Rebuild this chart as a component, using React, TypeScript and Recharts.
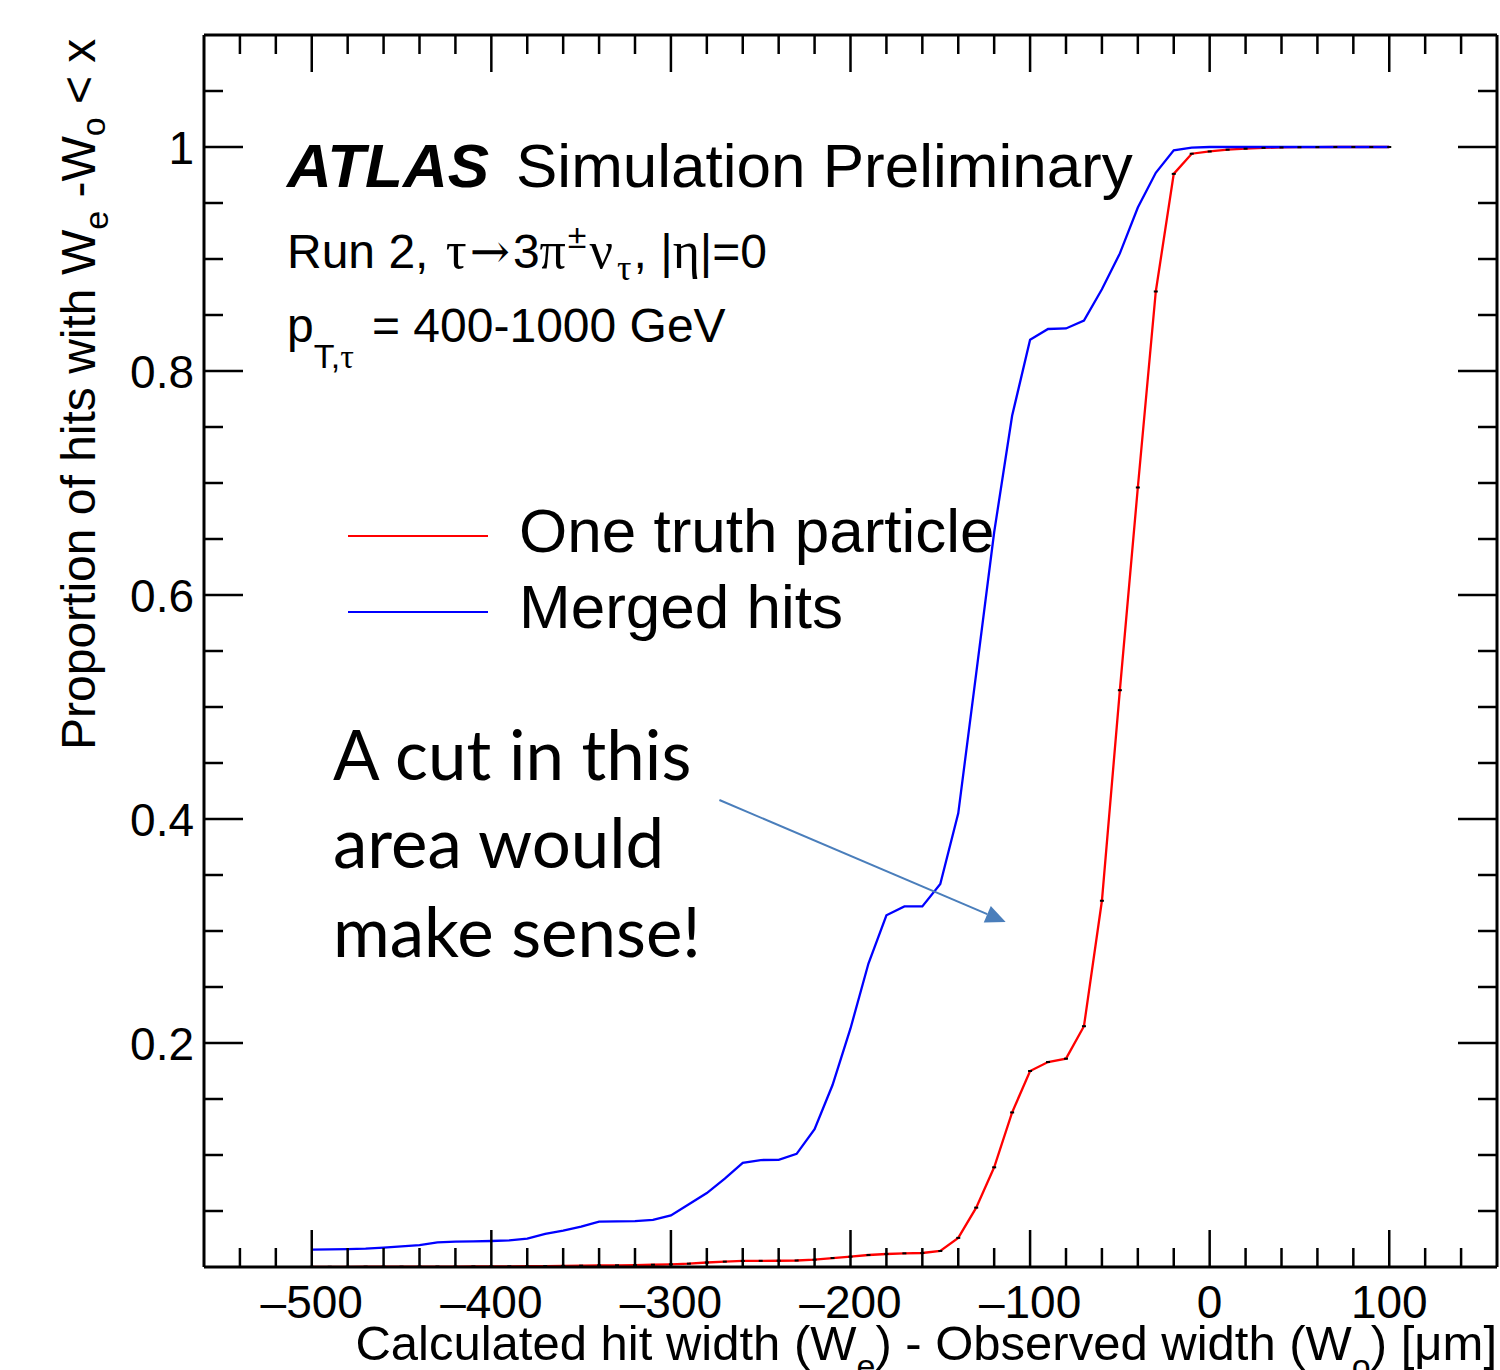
import { LineChart, Line, XAxis, YAxis, ReferenceLine } from "recharts";

// bin centres [um]
const xValues = [
  -500, -490, -480, -470, -460, -450, -440, -430, -420, -410,
  -400, -390, -380, -370, -360, -350, -340, -330, -320, -310,
  -300, -290, -280, -270, -260, -250, -240, -230, -220, -210,
  -200, -190, -180, -170, -160, -150, -140, -130, -120, -110,
  -100, -90, -80, -70, -60, -50, -40, -30, -20, -10,
  0, 10, 20, 30, 40, 50, 60, 70, 80, 90, 100,
];

// "One truth particle" (red)
const oneTruth = [
  0.0002, 0.0002, 0.0002, 0.0003, 0.0003, 0.0003, 0.0004, 0.0004, 0.0004, 0.0005,
  0.0005, 0.0006, 0.0007, 0.0008, 0.001, 0.0012, 0.0014, 0.0015, 0.0016, 0.002,
  0.0024, 0.003, 0.004, 0.0048, 0.0054, 0.0055, 0.0056, 0.0058, 0.0065, 0.008,
  0.0092, 0.0107, 0.0116, 0.0122, 0.0125, 0.0143, 0.026, 0.053, 0.089, 0.138,
  0.175, 0.183, 0.186, 0.215, 0.327, 0.515, 0.696, 0.871, 0.976, 0.994,
  0.996, 0.9976, 0.9985, 0.9992, 0.9996, 0.9998, 0.9999, 1, 1, 1, 1,
];

// "Merged hits" (blue)
const mergedHits = [
  0.0155, 0.0157, 0.016, 0.0164, 0.0173, 0.0185, 0.0196, 0.022, 0.0226, 0.0229,
  0.0232, 0.0238, 0.0253, 0.0295, 0.0324, 0.036, 0.0405, 0.0408, 0.041, 0.042,
  0.046, 0.056, 0.066, 0.079, 0.093, 0.0955, 0.0957, 0.101, 0.123, 0.1625,
  0.213, 0.271, 0.314, 0.322, 0.322, 0.342, 0.405, 0.53, 0.656, 0.76,
  0.828, 0.8375, 0.838, 0.845, 0.873, 0.905, 0.946, 0.977, 0.997, 0.9995,
  1, 1, 1, 1, 1, 1, 1, 1, 1, 1, 1,
];

const xTicks = [
  -540, -520, -500, -480, -460, -440, -420, -400, -380, -360, -340, -320, -300,
  -280, -260, -240, -220, -200, -180, -160, -140, -120, -100, -80, -60, -40, -20,
  0, 20, 40, 60, 80, 100, 120, 140,
];
const yTicks = [
  0.05, 0.1, 0.15, 0.2, 0.25, 0.3, 0.35, 0.4, 0.45, 0.5, 0.55, 0.6, 0.65, 0.7,
  0.75, 0.8, 0.85, 0.9, 0.95, 1, 1.05,
];
const yLabels = [0.2, 0.4, 0.6, 0.8, 1];

// annotation arrow, in data units
const arrowFrom = { x: -273, y: 0.417 };
const arrowTo = { x: -113.6, y: 0.308 };

const data = xValues.map((x, i) => ({ x, truth: oneTruth[i], merged: mergedHits[i] }));

const SANS = "'Liberation Sans', Arial, Helvetica, sans-serif";
const SERIF = "'Liberation Serif', 'DejaVu Serif', serif";

const isMajorX = (v: number) => v % 100 === 0;
const isMajorY = (v: number) => Math.round(v * 100) % 20 === 0;

const BottomTick = ({ x, y, payload }: any) => {
  const v = payload.value;
  const major = isMajorX(v);
  return (
    <g>
      <line x1={x} x2={x} y1={y} y2={y - (major ? 37 : 19)} stroke="#000" strokeWidth={2.5} />
      {major && (
        <text x={x} y={y + 51} textAnchor="middle" fontSize={46} fontFamily={SANS} fill="#000">
          {v < 0 ? `\u2013${Math.abs(v)}` : v}
        </text>
      )}
    </g>
  );
};

const TopTick = ({ x, y, payload }: any) => {
  const major = isMajorX(payload.value);
  return <line x1={x} x2={x} y1={y} y2={y + (major ? 37 : 19)} stroke="#000" strokeWidth={2.5} />;
};

const LeftTick = ({ x, y, payload }: any) => {
  const v = payload.value;
  const major = isMajorY(v);
  const label = yLabels.find((l) => Math.abs(l - v) < 1e-6);
  return (
    <g>
      <line x1={x} x2={x + (major ? 39 : 19)} y1={y} y2={y} stroke="#000" strokeWidth={2.5} />
      {label !== undefined && (
        <text x={x - 10} y={y} dy="0.36em" textAnchor="end" fontSize={46} fontFamily={SANS} fill="#000">
          {label}
        </text>
      )}
    </g>
  );
};

const RightTick = ({ x, y, payload }: any) => {
  const major = isMajorY(payload.value);
  return <line x1={x} x2={x - (major ? 39 : 19)} y1={y} y2={y} stroke="#000" strokeWidth={2.5} />;
};

const ErrorDot = ({ cx, cy }: any) => <rect x={cx - 2} y={cy - 1} width={4} height={2} fill="#000" />;

const Arrow = (p: any) => {
  const { x1, y1, x2, y2 } = p;
  const a = Math.atan2(y2 - y1, x2 - x1);
  const L = 20;
  const W = 9;
  const bx = x2 - L * Math.cos(a);
  const by = y2 - L * Math.sin(a);
  const pts = `${x2},${y2} ${bx - W * Math.sin(a)},${by + W * Math.cos(a)} ${bx + W * Math.sin(a)},${by - W * Math.cos(a)}`;
  return (
    <g>
      <line x1={x1} y1={y1} x2={bx} y2={by} stroke="#4a7ebb" strokeWidth={2} />
      <polygon points={pts} fill="#4a7ebb" />
    </g>
  );
};

export default function App() {
  const axisLine = { stroke: "#000", strokeWidth: 3 };
  return (
    <div style={{ position: "absolute", left: 0, top: 0, width: 1500, height: 1370, background: "#fff", overflow: "hidden" }}>
      <LineChart width={1500} height={1370} data={data} margin={{ top: 34, right: 2, bottom: 102, left: 203 }}>
        <XAxis
          dataKey="x"
          type="number"
          domain={[-560, 160]}
          ticks={xTicks}
          interval={0}
          height={1}
          tickSize={0}
          tickMargin={0}
          tickLine={false}
          axisLine={axisLine}
          tick={(p: any) => <BottomTick {...p} />}
          allowDataOverflow
        />
        <XAxis
          xAxisId="top"
          dataKey="x"
          orientation="top"
          type="number"
          domain={[-560, 160]}
          ticks={xTicks}
          interval={0}
          height={1}
          tickSize={0}
          tickMargin={0}
          tickLine={false}
          axisLine={axisLine}
          tick={(p: any) => <TopTick {...p} />}
          allowDataOverflow
        />
        <YAxis
          type="number"
          domain={[0, 1.1]}
          ticks={yTicks}
          interval={0}
          width={1}
          tickSize={0}
          tickMargin={0}
          tickLine={false}
          axisLine={axisLine}
          tick={(p: any) => <LeftTick {...p} />}
          allowDataOverflow
        />
        <YAxis
          yAxisId="right"
          orientation="right"
          type="number"
          domain={[0, 1.1]}
          ticks={yTicks}
          interval={0}
          width={1}
          tickSize={0}
          tickMargin={0}
          tickLine={false}
          axisLine={axisLine}
          tick={(p: any) => <RightTick {...p} />}
          allowDataOverflow
        />
        <Line
          type="linear"
          dataKey="truth"
          stroke="#ff0000"
          strokeWidth={2.3}
          dot={<ErrorDot />}
          activeDot={false}
          isAnimationActive={false}
        />
        <Line
          type="linear"
          dataKey="merged"
          stroke="#0000ff"
          strokeWidth={2.3}
          dot={false}
          activeDot={false}
          isAnimationActive={false}
        />
        <ReferenceLine segment={[arrowFrom, arrowTo]} ifOverflow="visible" shape={(p: any) => <Arrow {...p} />} />
      </LineChart>

      <svg width={1500} height={1370} style={{ position: "absolute", left: 0, top: 0, pointerEvents: "none" }}>
        <g fontFamily={SANS} fill="#000">
          <text x={287} y={187} fontSize={62} fontWeight="bold" fontStyle="italic">ATLAS</text>
          <text x={516} y={187} fontSize={62}>Simulation Preliminary</text>

          <text x={287} y={268} fontSize={48}>
            Run 2, <tspan fontFamily={SERIF} fontSize={52} dx={4}>τ</tspan>
            <tspan fontFamily="'DejaVu Serif', serif" fontSize={48} dx={3}>→</tspan>
            <tspan dx={3}>3</tspan>
            <tspan fontFamily={SERIF} fontSize={52}>π</tspan>
            <tspan fontSize={34} dy={-20} dx={2}>±</tspan>
            <tspan fontFamily={SERIF} fontSize={52} dy={20} dx={3}>ν</tspan>
            <tspan fontFamily={SERIF} fontSize={36} dy={12} dx={4}>τ</tspan>
            <tspan dy={-12} dx={2}>, |</tspan>
            <tspan fontFamily={SERIF} fontSize={52}>η</tspan>|=0
          </text>

          <text x={287} y={342} fontSize={48}>
            p<tspan fontSize={34} dy={26}>T,</tspan>
            <tspan fontFamily={SERIF} fontSize={34}>τ</tspan>
            <tspan x={372} dy={-26}>= 400-1000 GeV</tspan>
          </text>

          <line x1={348} x2={488} y1={536} y2={536} stroke="#ff0000" strokeWidth={2} />
          <line x1={348} x2={488} y1={612} y2={612} stroke="#0000ff" strokeWidth={2} />
          <text x={519} y={552} fontSize={62}>One truth particle</text>
          <text x={519} y={628} fontSize={62}>Merged hits</text>

          <text x={1497} y={1360} fontSize={49} textAnchor="end">
            Calculated hit width (W<tspan fontSize={34} dy={18}>e</tspan>
            <tspan dy={-18}>) - Observed width (W</tspan>
            <tspan fontSize={34} dy={18}>o</tspan>
            <tspan dy={-18}>) [μm]</tspan>
          </text>

          <text x={95} y={750} fontSize={48} transform="rotate(-90 95 750)">
            Proportion of hits with W<tspan fontSize={34} dy={13}>e</tspan>
            <tspan dy={-13}> -W</tspan>
            <tspan fontSize={34} dy={10}>o</tspan>
            <tspan dy={-10}> &lt; x</tspan>
          </text>
        </g>

        <g fontFamily="Lato, 'Open Sans', sans-serif" fontSize={69} fill="#000">
          <text x={333} y={780}>A cut in this</text>
          <text x={333} y={868}>area would</text>
          <text x={333} y={957}>make sense!</text>
        </g>
      </svg>
    </div>
  );
}
